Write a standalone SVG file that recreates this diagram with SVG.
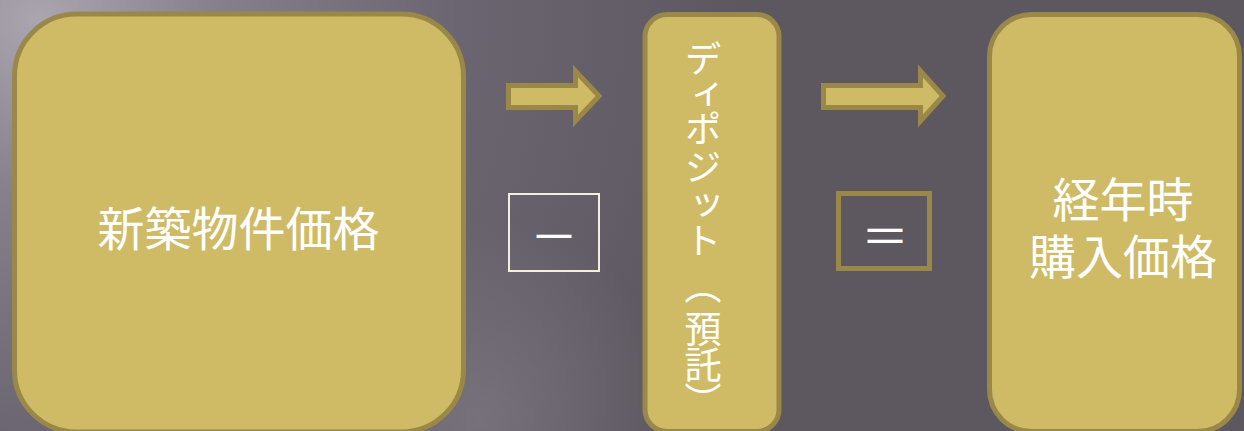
<svg xmlns="http://www.w3.org/2000/svg" width="1244" height="431" viewBox="0 0 1244 431">
<defs>
<radialGradient id="bg1" cx="40" cy="20" r="700" gradientUnits="userSpaceOnUse">
<stop offset="0" stop-color="#aaa5ae"/>
<stop offset="0.25" stop-color="#85808a"/>
<stop offset="0.6" stop-color="#6a6570"/>
<stop offset="1" stop-color="#5d5860"/>
</radialGradient>
<radialGradient id="bg2" cx="480" cy="420" r="200" gradientUnits="userSpaceOnUse">
<stop offset="0" stop-color="#8a8590" stop-opacity="0.5"/>
<stop offset="1" stop-color="#8a8590" stop-opacity="0"/>
</radialGradient>
<style>
.node{fill:#cfbb65;stroke:#9a8849;stroke-width:5}
.arrow{fill:#cfbb65;stroke:#9a8849;stroke-width:5;stroke-linejoin:miter}
.lbl{fill:#ffffff;font-family:"Noto Sans CJK JP","Noto Sans",sans-serif;text-anchor:middle}
</style>
</defs>
<rect x="0" y="0" width="1244" height="431" fill="url(#bg1)"/>
<rect x="0" y="0" width="1244" height="431" fill="url(#bg2)"/>
<g id="connectors">
<polygon class="arrow" points="508.5,85.5 575.5,85.5 575.5,71 599,96 575.5,121 575.5,107.5 508.5,107.5"/>
<polygon class="arrow" points="823.5,85.5 920.5,85.5 920.5,71 943,96 920.5,121 920.5,107.5 823.5,107.5"/>
</g>
<g id="node-new">
<rect class="node" x="14.5" y="14" width="449" height="418" rx="62"/>
<text class="lbl" x="238.5" y="246" font-size="47">新築物件価格</text>
</g>
<g id="op-minus">
<rect x="509" y="194" width="90" height="77" fill="none" stroke="#f3efdc" stroke-width="2"/>
<text class="lbl" x="554" y="254" font-size="48">－</text>
</g>
<g id="node-deposit">
<rect class="node" x="645" y="14.5" width="134" height="417" rx="22"/>
<text class="lbl" x="703" y="40 76 110 148 186 222 267 310 346 382" font-size="37" style="writing-mode:vertical-rl;text-anchor:start">ディポジット（預託）</text>
</g>
<g id="op-equals">
<rect x="838.5" y="193.5" width="91" height="75" fill="none" stroke="#9a8849" stroke-width="5"/>
<text class="lbl" x="885" y="253.5" font-size="48">＝</text>
</g>
<g id="node-result">
<rect class="node" x="989.5" y="14.5" width="250" height="417" rx="42"/>
<text class="lbl" x="1123" y="217" font-size="47">経年時</text>
<text class="lbl" x="1123" y="274" font-size="47">購入価格</text>
</g>
</svg>
